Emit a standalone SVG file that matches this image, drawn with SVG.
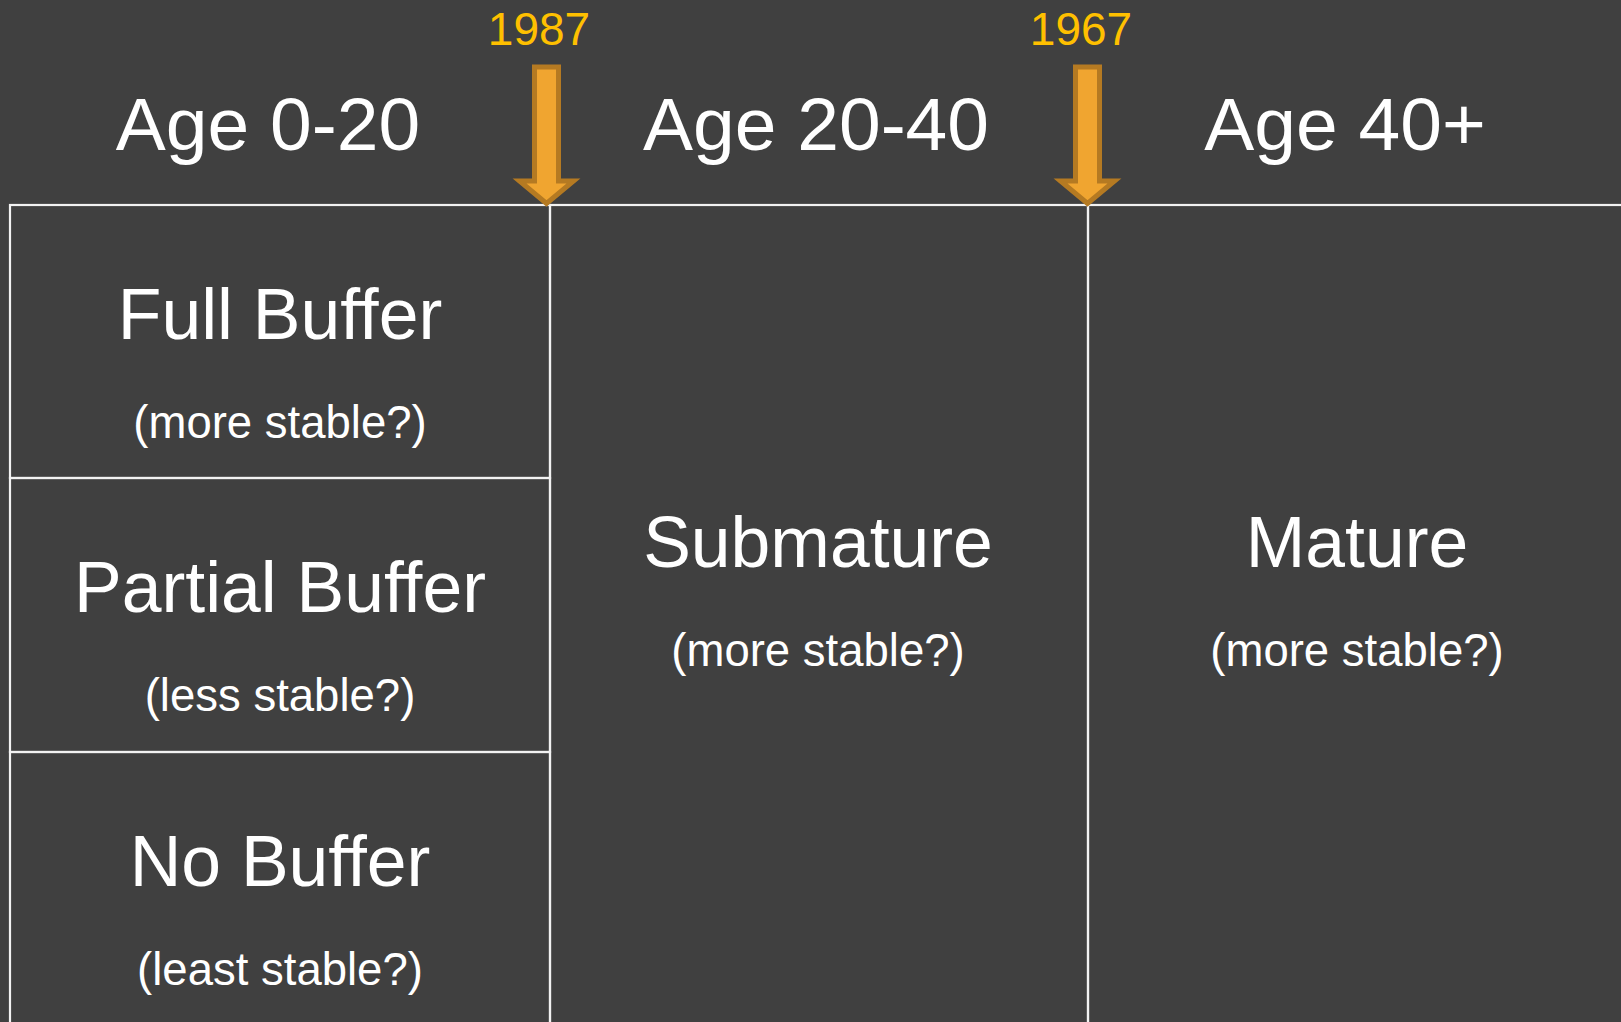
<svg xmlns="http://www.w3.org/2000/svg" width="1621" height="1022" viewBox="0 0 1621 1022">
  <style>
    .cell { fill: none; stroke: #F2F2F2; stroke-width: 2.2; }
    .hdr { font-family: "Liberation Sans", Arial, sans-serif; font-size: 75px; fill: #FFFFFF; text-anchor: middle; }
    .main { font-family: "Liberation Sans", Arial, sans-serif; font-size: 71.5px; fill: #FFFFFF; text-anchor: middle; }
    .sub { font-family: "Liberation Sans", Arial, sans-serif; font-size: 45.5px; fill: #FFFFFF; text-anchor: middle; }
    .year { font-family: "Liberation Sans", Arial, sans-serif; font-size: 46px; fill: #FFC000; text-anchor: middle; }
    .arrow { fill: #F0A530; stroke: #B57A22; stroke-width: 5; stroke-linejoin: miter; }
  </style>
  <rect x="0" y="0" width="1621" height="1022" fill="#404040"/>

  <g id="header-age-0-20"><text class="hdr" x="268" y="150">Age 0-20</text></g>
  <g id="header-age-20-40"><text class="hdr" x="816" y="150">Age 20-40</text></g>
  <g id="header-age-40"><text class="hdr" x="1345" y="150">Age 40+</text></g>

  <g id="cell-full-buffer">
    <rect class="cell" x="10" y="205" width="540" height="273"/>
    <text class="main" x="280" y="339">Full Buffer</text>
    <text class="sub" x="280" y="438">(more stable?)</text>
  </g>
  <g id="cell-partial-buffer">
    <rect class="cell" x="10" y="478" width="540" height="274"/>
    <text class="main" x="280" y="612">Partial Buffer</text>
    <text class="sub" x="280" y="711">(less stable?)</text>
  </g>
  <g id="cell-no-buffer">
    <rect class="cell" x="10" y="752" width="540" height="290"/>
    <text class="main" x="280" y="886">No Buffer</text>
    <text class="sub" x="280" y="985">(least stable?)</text>
  </g>
  <g id="cell-submature">
    <rect class="cell" x="550" y="205" width="538" height="837"/>
    <text class="main" x="818" y="567">Submature</text>
    <text class="sub" x="818" y="666">(more stable?)</text>
  </g>
  <g id="cell-mature">
    <rect class="cell" x="1088" y="205" width="560" height="837"/>
    <text class="main" x="1357" y="567">Mature</text>
    <text class="sub" x="1357" y="666">(more stable?)</text>
  </g>

  <g id="connectors">
    <g id="marker-1987">
      <text class="year" x="539" y="45">1987</text>
      <polygon class="arrow" points="534.5,67 558.5,67 558.5,181 573.5,181 546.5,203.5 519.5,181 534.5,181"/>
    </g>
    <g id="marker-1967">
      <text class="year" x="1081" y="45">1967</text>
      <polygon class="arrow" points="1075.5,67 1099.5,67 1099.5,181 1114.5,181 1087.5,203.5 1060.5,181 1075.5,181"/>
    </g>
  </g>
</svg>
